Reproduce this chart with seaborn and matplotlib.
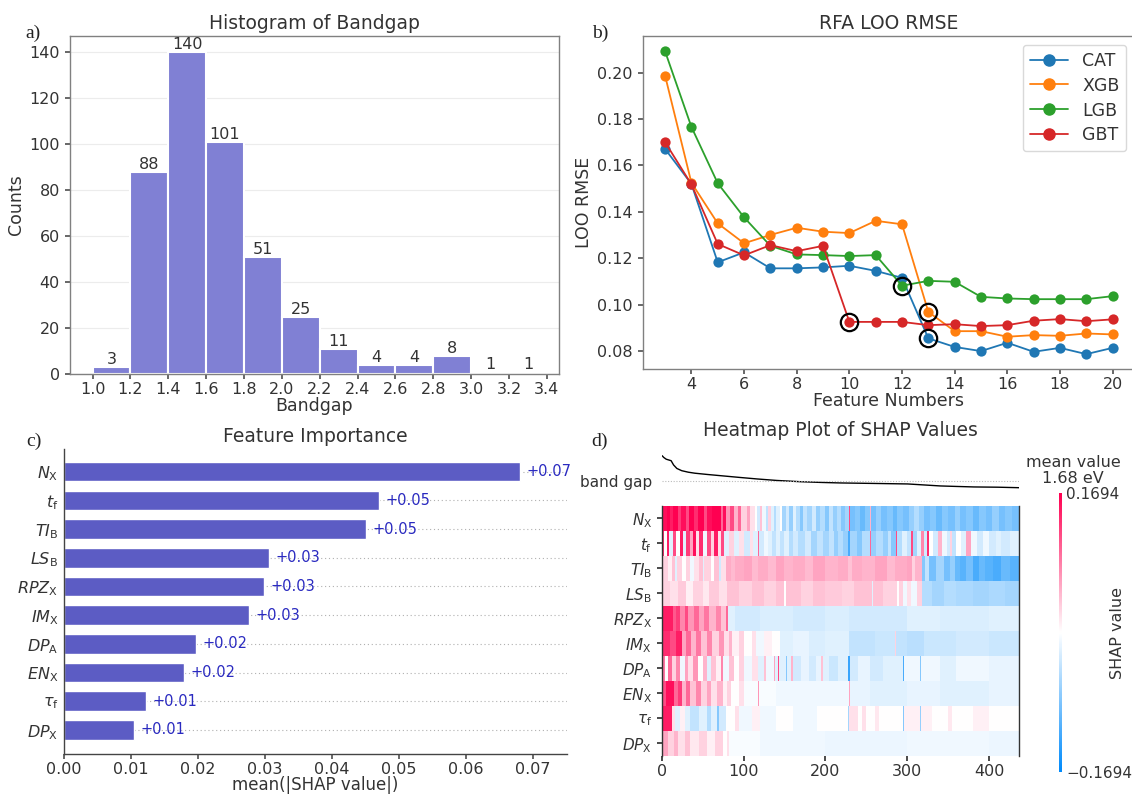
import numpy as np
import pandas as pd
import matplotlib
matplotlib.use("Agg")
import matplotlib.pyplot as plt
from matplotlib.colors import LinearSegmentedColormap
from matplotlib.lines import Line2D
import seaborn as sns

# ---------------- (a) band-gap histogram ----------------
bandgap_edges = [1.0, 1.2, 1.4, 1.6, 1.8, 2.0, 2.2, 2.4, 2.6, 2.8, 3.0, 3.2, 3.4]
bandgap_counts = [3, 88, 140, 101, 51, 25, 11, 4, 4, 8, 1, 1]

# ---------------- (b) RFA leave-one-out RMSE ----------------
feature_numbers = list(range(3, 21))
rmse_cat = [0.1671, 0.1520, 0.1182, 0.1225, 0.1156, 0.1156, 0.1160, 0.1167, 0.1145,
            0.1115, 0.0854, 0.0817, 0.0799, 0.0835, 0.0796, 0.0813, 0.0786, 0.0813]
rmse_xgb = [0.1987, 0.1525, 0.1350, 0.1264, 0.1300, 0.1331, 0.1314, 0.1308, 0.1361,
            0.1346, 0.0968, 0.0885, 0.0885, 0.0861, 0.0868, 0.0865, 0.0875, 0.0871]
rmse_lgb = [0.2092, 0.1766, 0.1523, 0.1376, 0.1253, 0.1216, 0.1213, 0.1209, 0.1213,
            0.1081, 0.1102, 0.1098, 0.1033, 0.1026, 0.1023, 0.1023, 0.1023, 0.1036]
rmse_gbt = [0.1700, 0.1518, 0.1261, 0.1212, 0.1256, 0.1230, 0.1253, 0.0925, 0.0925,
            0.0925, 0.0911, 0.0915, 0.0907, 0.0911, 0.0930, 0.0937, 0.0928, 0.0936]
model_names = ["CAT", "XGB", "LGB", "GBT"]
model_colors = ["#1f77b4", "#ff7f0e", "#2ca02c", "#d62728"]
selected_features = [13, 13, 12, 10]

# ---------------- (c) feature importance ----------------
feature_labels = [r"$N_{\mathrm{X}}$", r"$t_{\mathrm{f}}$", r"$TI_{\mathrm{B}}$",
                  r"$LS_{\mathrm{B}}$", r"$RPZ_{\mathrm{X}}$", r"$IM_{\mathrm{X}}$",
                  r"$DP_{\mathrm{A}}$", r"$EN_{\mathrm{X}}$", r"$\tau_{\mathrm{f}}$",
                  r"$DP_{\mathrm{X}}$"]
mean_abs_shap = [0.0681, 0.0471, 0.0451, 0.0306, 0.0299, 0.0277, 0.0197, 0.0179, 0.0123, 0.0105]

# ---------------- (d) SHAP heatmap ----------------
n_instances = 437
shap_limit = 0.1694
mean_bandgap = 1.68
# model output (eV) along the ordered instances
curve_instances = [0, 2, 5, 8, 11, 14, 18, 24, 32, 40, 55, 75, 95, 116, 140, 169, 195,
                   218, 260, 300, 320, 340, 360, 381, 410, 436]
curve_bandgap = [2.68, 2.61, 2.54, 2.51, 2.48, 2.31, 2.17, 2.08, 2.02, 1.98, 1.93, 1.87,
                 1.81, 1.75, 1.69, 1.64, 1.61, 1.59, 1.57, 1.55, 1.51, 1.47, 1.45, 1.43,
                 1.42, 1.40]

# SHAP values per feature as (first instance, value) runs
shap_nx = [(0, 0.16), (6, 0.17), (10, 0.15), (14, 0.17), (20, 0.13), (23, 0.16), (30, 0.12),
           (33, 0.17), (40, 0.14), (44, 0.17), (52, 0.12), (55, 0.16), (62, 0.17), (72, 0.10),
           (75, 0.16), (79, 0.07), (84, 0.12), (88, 0.05), (93, 0.10), (97, 0.03), (104, 0.06),
           (108, 0.02), (114, 0.0), (117, -0.03), (120, 0.04), (123, -0.01), (127, -0.04),
           (130, 0.03), (133, -0.02), (137, -0.05), (140, -0.02), (144, 0.0), (147, -0.06),
           (152, -0.03), (156, -0.07), (160, -0.02), (164, -0.05), (169, -0.08), (173, -0.04),
           (178, -0.06), (184, -0.03), (188, -0.07), (194, -0.05), (199, -0.08), (204, -0.04),
           (209, -0.07), (214, -0.05), (219, -0.08), (224, -0.06), (229, 0.12), (230, -0.09),
           (236, -0.08), (242, -0.10), (248, -0.08), (255, 0.05), (256, -0.09), (262, -0.07),
           (268, -0.09), (275, -0.08), (282, -0.10), (288, -0.08), (295, -0.09), (302, -0.07),
           (308, -0.05), (314, -0.07), (320, -0.09), (328, -0.08), (335, -0.10), (342, -0.08),
           (350, -0.09), (358, -0.07), (365, -0.09), (372, -0.08), (380, -0.10), (388, -0.08),
           (396, -0.09), (404, -0.07), (412, -0.09), (420, -0.08), (428, -0.09)]
shap_tf = [(0, 0.14), (3, 0.0), (6, 0.15), (9, -0.02), (14, 0.12), (17, 0.0), (22, 0.15),
           (26, -0.02), (30, 0.13), (34, 0.06), (38, 0.16), (42, 0.02), (46, 0.14), (50, -0.01),
           (55, 0.12), (60, 0.03), (64, 0.15), (69, 0.02), (73, 0.12), (76, -0.02), (82, 0.03),
           (88, -0.02), (95, 0.02), (100, -0.03), (108, 0.02), (112, -0.02), (118, 0.10),
           (119, -0.03), (125, -0.01), (130, -0.02), (135, -0.04), (140, -0.02), (145, -0.04),
           (150, -0.02), (155, -0.05), (160, -0.03), (167, -0.05), (175, -0.03), (182, -0.06),
           (190, -0.04), (197, -0.06), (205, -0.04), (210, -0.07), (215, -0.05), (222, -0.07),
           (228, -0.12), (230, -0.06), (238, -0.08), (245, -0.05), (255, 0.10), (256, -0.07),
           (262, -0.05), (270, -0.07), (276, -0.04), (280, -0.08), (286, 0.12), (288, -0.05),
           (294, -0.02), (300, -0.04), (305, 0.12), (307, -0.06), (312, -0.02), (317, 0.08),
           (321, -0.03), (324, 0.14), (326, 0.0), (332, -0.03), (338, 0.05), (343, -0.01),
           (348, -0.03), (352, 0.03), (355, -0.04), (360, 0.0), (366, -0.02), (372, 0.06),
           (378, -0.01), (385, -0.03), (392, -0.01), (400, -0.03), (408, -0.02), (415, -0.03),
           (425, -0.02)]
shap_tib = [(0, 0.03), (8, 0.01), (12, 0.04), (16, -0.02), (19, 0.03), (25, 0.0), (30, 0.03),
            (35, -0.01), (40, 0.02), (45, 0.04), (50, -0.02), (52, 0.03), (60, 0.0), (64, 0.04),
            (70, -0.03), (72, 0.02), (78, 0.055), (85, 0.045), (90, 0.055), (100, 0.06),
            (110, 0.045), (118, 0.055), (130, 0.045), (140, 0.06), (150, 0.05), (160, 0.055),
            (175, 0.045), (185, 0.06), (200, 0.05), (215, 0.055), (228, 0.04), (232, 0.055),
            (245, 0.05), (260, 0.06), (275, 0.045), (285, 0.055), (300, 0.06), (306, 0.03),
            (310, 0.05), (318, -0.08), (322, -0.04), (326, -0.09), (335, -0.06), (345, -0.09),
            (352, -0.07), (358, -0.10), (365, -0.11), (372, -0.09), (380, -0.12), (388, -0.10),
            (395, -0.11), (405, -0.12), (415, -0.10), (425, -0.11)]
shap_lsb = [(0, 0.03), (10, 0.02), (20, 0.035), (30, 0.01), (38, 0.03), (50, 0.015),
            (58, 0.035), (70, 0.02), (80, 0.04), (95, 0.03), (110, 0.04), (125, 0.03),
            (140, 0.04), (150, 0.0), (152, 0.04), (170, 0.03), (185, 0.04), (200, 0.035),
            (220, 0.03), (235, 0.04), (257, -0.02), (258, 0.04), (270, 0.03), (287, 0.0),
            (290, 0.03), (295, -0.01), (300, 0.02), (305, -0.01), (312, 0.03), (318, -0.05),
            (330, -0.06), (345, -0.05), (360, -0.055), (380, -0.06), (400, -0.055), (420, -0.06)]
shap_rpz = [(0, 0.15), (14, 0.11), (18, 0.13), (22, 0.08), (28, 0.12), (32, 0.07), (40, 0.10),
            (46, 0.06), (52, 0.09), (58, 0.05), (66, 0.08), (72, 0.04), (78, 0.10), (81, -0.02),
            (90, -0.03), (120, -0.025), (160, -0.03), (200, -0.025), (229, -0.03), (300, -0.02),
            (340, -0.025), (400, -0.02)]
shap_imx = [(0, 0.14), (10, 0.12), (18, 0.15), (25, 0.06), (30, 0.10), (36, 0.05), (42, 0.09),
            (48, 0.04), (55, 0.08), (62, 0.03), (70, 0.07), (76, 0.02), (82, 0.05), (86, 0.01),
            (95, 0.03), (100, 0.0), (110, 0.02), (115, -0.01), (125, 0.01), (135, 0.0),
            (145, -0.02), (160, -0.015), (180, -0.025), (200, -0.02), (229, -0.04), (260, -0.035),
            (285, 0.03), (286, -0.04), (300, -0.045), (320, -0.035), (360, -0.03), (400, -0.035)]
shap_dpa = [(0, 0.09), (4, 0.0), (8, 0.10), (12, 0.03), (18, 0.08), (22, -0.01), (28, 0.06),
            (32, 0.02), (38, 0.07), (44, 0.0), (50, 0.05), (55, -0.02), (60, 0.04), (66, 0.01),
            (72, 0.08), (75, -0.01), (82, 0.04), (88, 0.0), (95, 0.03), (100, -0.01), (110, 0.02),
            (118, -0.02), (125, 0.04), (128, -0.01), (137, 0.06), (139, -0.02), (142, 0.12),
            (143, -0.02), (152, -0.08), (153, -0.02), (158, 0.05), (160, -0.03), (170, -0.015),
            (180, -0.03), (188, -0.015), (195, 0.04), (197, -0.02), (205, -0.035), (215, -0.02),
            (228, -0.13), (230, -0.03), (240, -0.015), (254, -0.11), (255, -0.03), (270, -0.02),
            (295, -0.12), (296, -0.01), (316, -0.08), (317, -0.01), (340, -0.02), (360, -0.01),
            (400, -0.015)]
shap_enx = [(0, 0.12), (5, 0.16), (15, 0.10), (20, 0.13), (25, 0.05), (30, 0.10), (35, 0.04),
            (42, 0.08), (48, 0.03), (55, 0.06), (60, 0.02), (68, 0.05), (75, 0.01), (80, 0.03),
            (85, 0.0), (95, 0.02), (100, -0.005), (118, 0.07), (119, -0.005), (140, -0.01),
            (229, 0.06), (230, -0.015), (255, -0.02), (300, -0.015), (340, -0.02), (400, -0.015)]
shap_tau = [(0, 0.15), (12, 0.02), (16, -0.02), (22, 0.01), (28, -0.02), (35, -0.04),
            (45, -0.02), (55, -0.05), (60, -0.02), (68, -0.08), (70, -0.03), (78, 0.0),
            (90, 0.02), (95, -0.01), (110, 0.01), (120, -0.01), (140, 0.0), (160, -0.01),
            (190, 0.0), (228, -0.06), (229, 0.02), (240, 0.0), (245, 0.02), (250, 0.0),
            (260, 0.015), (265, 0.0), (295, -0.08), (296, 0.01), (316, -0.07), (317, 0.01),
            (330, 0.0), (350, 0.015), (355, 0.0), (380, 0.01), (400, 0.0)]
shap_dpx = [(0, 0.06), (8, 0.03), (15, 0.05), (20, 0.02), (28, 0.04), (35, 0.015), (45, 0.03),
            (55, 0.01), (65, 0.03), (75, 0.0), (80, 0.02), (82, -0.005), (120, -0.01),
            (200, -0.012), (300, -0.01), (400, -0.012)]


def expand_segments(segments, n):
    row = np.zeros(n)
    starts = [s for s, _ in segments] + [n]
    for (start, value), stop in zip(segments, starts[1:]):
        row[start:stop] = value
    return row


# ---------------- style ----------------
sns.set_theme(style="ticks", rc={
    "axes.edgecolor": "#808080",
    "axes.linewidth": 1.0,
    "xtick.color": "#555555",
    "ytick.color": "#555555",
    "xtick.labelcolor": "#333333",
    "ytick.labelcolor": "#333333",
    "text.color": "#333333",
    "axes.labelcolor": "#333333",
    "xtick.major.size": 3.5,
    "ytick.major.size": 3.5,
    "xtick.major.pad": 2.5,
    "xtick.labelsize": 11.5,
    "ytick.labelsize": 11.5,
})
plt.rcParams["font.family"] = ["DejaVu Sans"]
plt.rcParams["mathtext.fontset"] = "dejavusans"

W, H = 1132, 796
fig = plt.figure(figsize=(W / 100, H / 100), dpi=100)


def box(left, top, right, bottom):
    return [left / W, 1 - bottom / H, (right - left) / W, (bottom - top) / H]


ax_a = fig.add_axes(box(69.6, 36, 558.6, 374))
ax_b = fig.add_axes(box(642.7, 36, 1135, 368.5))
ax_c = fig.add_axes(box(64, 449.3, 566.8, 754))
ax_d = fig.add_axes(box(661.7, 443.2, 1019.4, 755.7))
cax = fig.add_axes(box(1059.3, 493.3, 1062.3, 771.7))

title_kw = dict(fontsize=13.5, pad=5)
label_kw = dict(fontsize=12.5, labelpad=0)

# ---------------- (a) ----------------
edges = np.array(bandgap_edges)
centers = (edges[:-1] + edges[1:]) / 2
sns.histplot(x=centers, weights=bandgap_counts, bins=bandgap_edges, color="#8080d4",
             alpha=1, edgecolor="white", linewidth=1.5, ax=ax_a)
ax_a.bar_label(ax_a.containers[0], fmt="%g", fontsize=11.5, padding=0, color="#333333")
ax_a.set_xlim(0.879, 3.462)
ax_a.set_ylim(0, 147)
ax_a.set_xticks(bandgap_edges)
ax_a.set_xticklabels([f"{e:.1f}" for e in bandgap_edges])
ax_a.set_yticks(range(0, 141, 20))
ax_a.yaxis.grid(True, color="#ececec", lw=0.8)
ax_a.set_axisbelow(True)
ax_a.set_title("Histogram of Bandgap", **title_kw)
ax_a.set_xlabel("Bandgap", **label_kw)
ax_a.set_ylabel("Counts", fontsize=12.5, labelpad=3)

# ---------------- (b) ----------------
rmse_series = [rmse_cat, rmse_xgb, rmse_lgb, rmse_gbt]
df_rfa = pd.DataFrame({
    "Feature Numbers": feature_numbers * len(model_names),
    "LOO RMSE": np.concatenate(rmse_series),
    "model": np.repeat(model_names, len(feature_numbers)),
})
palette = dict(zip(model_names, model_colors))
sns.lineplot(data=df_rfa, x="Feature Numbers", y="LOO RMSE", hue="model", palette=palette,
             marker="o", markersize=7.4, markeredgewidth=0, linewidth=1.3, legend=False,
             ax=ax_b)
for series, sel in zip(rmse_series, selected_features):
    i = feature_numbers.index(sel)
    ax_b.plot(sel, series[i], "o", ms=12.5, mfc="none", mec="black", mew=1.6, zorder=5)
ax_b.set_xlim(2.15, 20.85)
ax_b.set_ylim(0.0724, 0.2158)
ax_b.set_xticks(range(4, 21, 2))
ax_b.set_yticks(np.arange(0.08, 0.201, 0.02))
ax_b.set_yticklabels([f"{v:.2f}" for v in np.arange(0.08, 0.201, 0.02)])
handles = [Line2D([], [], color=c, marker="o", markersize=8, lw=1.3) for c in model_colors]
ax_b.legend(handles, model_names, loc="upper right", fontsize=12.5, frameon=True,
            edgecolor="#d0d0d0", fancybox=True, handlelength=2.2, labelspacing=0.4)
ax_b.set_title("RFA LOO RMSE", **title_kw)
ax_b.set_xlabel("Feature Numbers", **label_kw)
ax_b.set_ylabel("LOO RMSE", fontsize=12.5, labelpad=3)

# ---------------- (c) ----------------
sns.barplot(x=mean_abs_shap, y=feature_labels, orient="h", color="#5c5cc4", saturation=1,
            width=0.68, ax=ax_c)
for i in range(len(feature_labels)):
    ax_c.axhline(i, color="#b0b0b0", lw=0.8, dashes=(1, 2.5), zorder=0)
ax_c.bar_label(ax_c.containers[0], labels=[f"+{v:.2f}" for v in mean_abs_shap],
               padding=4.5, color="#2a2ac0", fontsize=10.5)
ax_c.set_xlim(0, 0.0751)
ax_c.set_ylim(9.84, -0.78)
ax_c.set_xticks(np.arange(0, 0.0701, 0.01))
ax_c.set_xticklabels([f"{v:.2f}" for v in np.arange(0, 0.0701, 0.01)])
ax_c.tick_params(axis="y", length=0, labelsize=11.5, pad=4)
for s in ["top", "right"]:
    ax_c.spines[s].set_visible(False)
for s in ["left", "bottom"]:
    ax_c.spines[s].set_color("#444444")
ax_c.set_title("Feature Importance", **title_kw)
ax_c.set_xlabel("mean(|SHAP value|)", fontsize=12, labelpad=-1)
ax_c.set_ylabel("")

# ---------------- (d) ----------------
shap_segments = [shap_nx, shap_tf, shap_tib, shap_lsb, shap_rpz, shap_imx, shap_dpa,
                 shap_enx, shap_tau, shap_dpx]
shap_matrix = np.vstack([expand_segments(s, n_instances) for s in shap_segments])
red_white_blue = LinearSegmentedColormap.from_list(
    "red_white_blue", [(0.0, 0.543, 0.983), (1, 1, 1), (1.0, 0.0, 0.318)])
sns.heatmap(shap_matrix, cmap=red_white_blue, vmin=-shap_limit, vmax=shap_limit,
            cbar_ax=cax, cbar_kws={"ticks": [-shap_limit, shap_limit]},
            xticklabels=False, yticklabels=False, ax=ax_d)

deviation = np.array(curve_bandgap) - mean_bandgap
curve_y = -deviation / np.abs(deviation).max() - 1.0
sns.lineplot(x=np.array(curve_instances) + 0.5, y=curve_y, color="black", linewidth=1.0,
             ax=ax_d)
ax_d.axhline(-1.0, color="#bbbbbb", lw=0.8, ls=(0, (1, 1.5)))
ax_d.set_xlim(0, n_instances)
ax_d.set_ylim(10, -2.5)
ax_d.set_xticks(range(0, 401, 100))
ax_d.set_xticklabels([str(t) for t in range(0, 401, 100)], rotation=0)
ax_d.set_yticks([-1.0] + [i + 0.5 for i in range(len(feature_labels))])
ax_d.set_yticklabels(["band gap"] + feature_labels, rotation=0)
ax_d.tick_params(axis="y", labelsize=11, length=3.5, color="#333333")
ax_d.tick_params(axis="x", length=3.5, color="#333333")
ax_d.yaxis.get_major_ticks()[0].tick1line.set_visible(False)
for s in ["left", "right"]:
    ax_d.spines[s].set_visible(True)
    ax_d.spines[s].set_bounds(0, 10)
    ax_d.spines[s].set_color("#333333")
for s in ["top", "bottom"]:
    ax_d.spines[s].set_visible(False)
ax_d.set_title("Heatmap Plot of SHAP Values", **title_kw)
ax_d.set_xlabel("Instances", fontsize=12, labelpad=-1)
ax_d.set_ylabel("")

cbar = ax_d.collections[0].colorbar
cbar.outline.set_visible(False)
cax.set_yticklabels([f"\u2212{shap_limit:.4f}", f"{shap_limit:.4f}"])
cax.tick_params(length=0, labelsize=11, pad=3)
fig.text(1118 / W, 1 - 633 / H, "SHAP value", rotation=90, ha="center", va="center",
         fontsize=11.5)
fig.text(1073 / W, 1 - 470.5 / H, f"mean value\n{mean_bandgap:.2f} eV", ha="center",
         va="center", fontsize=11.5, linespacing=1.1)

# ---------------- panel letters ----------------
for letter, (px, py) in zip(["a)", "b)", "c)", "d)"],
                            [(33, 33), (600, 33), (34, 441), (600, 441)]):
    fig.text(px / W, 1 - py / H, letter, family="Liberation Serif", fontsize=14,
             ha="center", va="center", color="#222222")

fig.savefig("out.png", dpi=100)
